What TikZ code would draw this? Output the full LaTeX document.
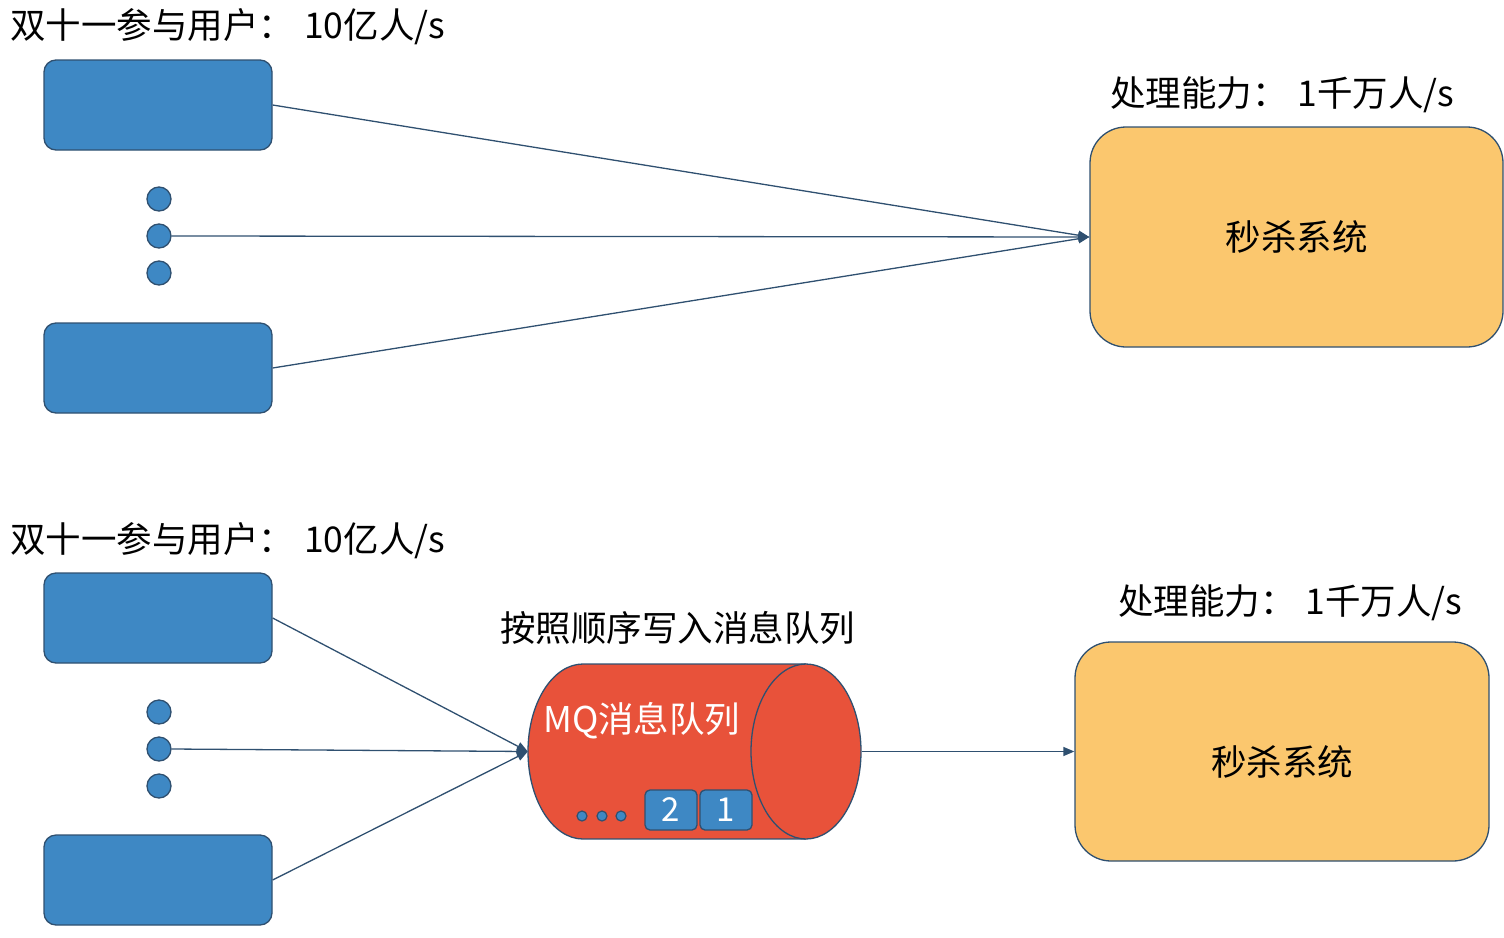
\documentclass[tikz,border=0pt]{standalone}
\usepackage{fontspec}
\setmainfont{Noto Sans CJK SC}
\usetikzlibrary{arrows.meta}
\definecolor{boxblue}{RGB}{62,136,196}
\definecolor{edge}{RGB}{47,80,112}
\definecolor{sysyellow}{RGB}{251,199,110}
\definecolor{mqred}{RGB}{232,82,58}
\tikzset{
  user/.style={draw=edge, line width=1.3pt, fill=boxblue, rounded corners=12pt, minimum width=228pt, minimum height=90pt, inner sep=0pt},
  udot/.style={draw=edge, line width=1.3pt, fill=boxblue, circle, minimum size=24pt, inner sep=0pt},
  sys/.style={draw=edge, line width=1.3pt, fill=sysyellow, rounded corners=36pt, inner sep=0pt, font=\fontsize{35.5}{42}\selectfont},
  lbl/.style={anchor=west, inner sep=0pt, font=\fontsize{35.5}{42}\selectfont},
  conn/.style={draw=edge, line width=1.3pt, -{Triangle[length=11pt,width=9pt]}},
  qbox/.style={draw=edge, line width=1.3pt, fill=boxblue, rounded corners=5pt, minimum width=52pt, minimum height=40pt, inner sep=0pt, text=white, font=\fontsize{33}{38}\selectfont},
  qdot/.style={draw=edge, line width=1.2pt, fill=boxblue, circle, minimum size=10pt, inner sep=0pt},
}
\begin{document}
\begin{tikzpicture}[x=1pt,y=-1pt]
\useasboundingbox (0,0) rectangle (1504,937);
% ---------- top ----------
\node[lbl] (t1) at (10,27) {双十一参与用户：\hspace{10pt}10亿人/s};
\node[user] (u1) at (158,105) {};
\node[udot] (d1) at (159,199) {};
\node[udot] (d2) at (159,236) {};
\node[udot] (d3) at (159,273) {};
\node[user] (u2) at (158,368) {};
\node[sys, minimum width=413pt, minimum height=220pt] (s1) at (1296.5,237) {秒杀系统};
\node[lbl] (p1) at (1110,95) {处理能力：\hspace{10pt}1千万人/s};
\draw[conn] (u1.east) -- (s1.west);
\draw[conn] (d2.east) -- (s1.west);
\draw[conn] (u2.east) -- (s1.west);
% ---------- bottom ----------
\node[lbl] (t2) at (10,541) {双十一参与用户：\hspace{10pt}10亿人/s};
\node[user] (u3) at (158,618) {};
\node[udot] (d4) at (159,712) {};
\node[udot] (d5) at (159,749) {};
\node[udot] (d6) at (159,786) {};
\node[user] (u4) at (158,880) {};
% MQ cylinder
\node[minimum width=334pt, minimum height=175pt, inner sep=0pt] (mq) at (695,751.5) {};
\fill[mqred] (583,751.5) ellipse [x radius=55pt, y radius=87.5pt];
\fill[mqred] (583,664) rectangle (806,839);
\draw[edge, line width=1.3pt] (806,664) -- (583,664) arc[start angle=90, end angle=270, x radius=55pt, y radius=87.5pt] -- (806,839);
\draw[edge, line width=1.3pt, fill=mqred] (806,751.5) ellipse [x radius=55pt, y radius=87.5pt];
\node[anchor=west, inner sep=0pt, text=white, font=\fontsize{35.5}{42}\selectfont] (mqt) at (543,721) {MQ消息队列};
\node[qbox] (q2) at (671,810) {2};
\node[qbox] (q1) at (726,810) {1};
\node[qdot] (e1) at (582,816) {};
\node[qdot] (e2) at (602,816) {};
\node[qdot] (e3) at (621,816) {};
\node[lbl] (w) at (500,628) {按照顺序写入消息队列};
\node[sys, minimum width=414pt, minimum height=219pt,
      label={[inner sep=0pt, yshift=-10pt, font=\fontsize{35.5}{42}\selectfont]center:秒杀系统}] (s2) at (1282,751.5) {};
\node[lbl] (p2) at (1118,603) {处理能力：\hspace{10pt}1千万人/s};
\draw[conn] (u3.east) -- (mq.west);
\draw[conn] (d5.east) -- (mq.west);
\draw[conn] (u4.east) -- (mq.west);
\draw[conn] (mq.east) -- (s2.west);
\end{tikzpicture}
\end{document}
